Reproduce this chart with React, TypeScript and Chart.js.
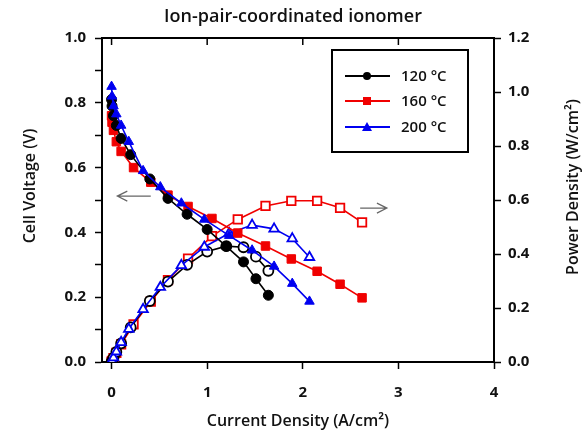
import React, { useEffect, useRef } from "react";
import { Chart, registerables } from "chart.js";

Chart.register(...registerables);

// ---- data ----
const titleText = "Ion-pair-coordinated ionomer";
const xTickValues = [0, 1, 2, 3, 4];

const current120 = [0, 0.005, 0.02, 0.05, 0.1, 0.2, 0.4, 0.59, 0.79, 1.0, 1.2, 1.38, 1.51, 1.64];
const voltage120 = [0.81, 0.79, 0.76, 0.73, 0.69, 0.64, 0.565, 0.505, 0.456, 0.409, 0.357, 0.309, 0.257, 0.206];
const power120 = [0, 0.004, 0.015, 0.037, 0.069, 0.128, 0.226, 0.298, 0.36, 0.409, 0.429, 0.425, 0.39, 0.338];

const current160 = [0, 0.005, 0.02, 0.05, 0.1, 0.23, 0.41, 0.59, 0.8, 1.05, 1.32, 1.61, 1.88, 2.15, 2.39, 2.62];
const voltage160 = [0.76, 0.74, 0.715, 0.68, 0.65, 0.6, 0.555, 0.515, 0.48, 0.443, 0.398, 0.358, 0.318, 0.28, 0.24, 0.198];
const power160 = [0, 0.004, 0.014, 0.034, 0.065, 0.139, 0.224, 0.303, 0.383, 0.466, 0.528, 0.578, 0.597, 0.597, 0.571, 0.517];

const current200 = [0, 0.005, 0.02, 0.05, 0.1, 0.18, 0.33, 0.51, 0.73, 0.97, 1.23, 1.47, 1.7, 1.89, 2.07];
const voltage200 = [0.85, 0.82, 0.79, 0.765, 0.73, 0.68, 0.59, 0.54, 0.49, 0.44, 0.39, 0.345, 0.295, 0.242, 0.187];
const power200 = [0, 0.004, 0.016, 0.038, 0.073, 0.122, 0.195, 0.277, 0.358, 0.426, 0.477, 0.507, 0.493, 0.457, 0.388];

const seriesLabels = ["120 °C", "160 °C", "200 °C"];
const seriesColors = ["#000000", "#f00000", "#0000f0"];
const seriesMarkers = ["circle", "rect", "triangle"];
const markerRadius = [5, 6, 5.5];

const FONT = "'Open Sans', 'Noto Sans', sans-serif";

function pts(xs: number[], ys: number[]) {
  return xs.map((x, i) => ({ x, y: ys[i] }));
}

const decorPlugin = {
  id: "decor",
  afterDraw(chart: any) {
    const { ctx, chartArea: a, scales } = chart;
    const xs = scales.x;
    const ys = scales.y;
    ctx.save();
    // top border + inward ticks
    ctx.strokeStyle = "#000";
    ctx.lineWidth = 2;
    ctx.beginPath();
    ctx.moveTo(a.left - 1, a.top);
    ctx.lineTo(a.right + 1, a.top);
    ctx.stroke();
    ctx.lineWidth = 1.5;
    for (const t of xTickValues) {
      const px = xs.getPixelForValue(t);
      ctx.beginPath();
      ctx.moveTo(px, a.top);
      ctx.lineTo(px, a.top + 7);
      ctx.stroke();
    }

    // arrows
    ctx.strokeStyle = "#666";
    ctx.lineWidth = 1.2;
    const arrow = (x1: number, x2: number, v: number, headLeft: boolean) => {
      const p1 = xs.getPixelForValue(x1);
      const p2 = xs.getPixelForValue(x2);
      const py = ys.getPixelForValue(v);
      ctx.beginPath();
      ctx.moveTo(p1, py);
      ctx.lineTo(p2, py);
      const hx = headLeft ? Math.min(p1, p2) : Math.max(p1, p2);
      const d = headLeft ? 10 : -10;
      ctx.moveTo(hx + d, py - 5);
      ctx.lineTo(hx, py);
      ctx.lineTo(hx + d, py + 5);
      ctx.stroke();
    };
    arrow(0.06, 0.41, 0.512, true);
    arrow(2.6, 2.88, 0.475, false);

    // legend
    const lx = 332, ly = 50, lw = 136, lh = 102;
    ctx.strokeStyle = "#000";
    ctx.lineWidth = 2;
    ctx.strokeRect(lx, ly, lw, lh);
    const rows = [76, 101, 127];
    ctx.font = `600 15px ${FONT}`;
    ctx.textBaseline = "middle";
    ctx.textAlign = "left";
    for (let i = 0; i < 3; i++) {
      const y = rows[i];
      ctx.strokeStyle = seriesColors[i];
      ctx.fillStyle = seriesColors[i];
      ctx.lineWidth = 2;
      ctx.beginPath();
      ctx.moveTo(345, y);
      ctx.lineTo(390, y);
      ctx.stroke();
      const cx = 367;
      ctx.beginPath();
      if (i === 0) {
        ctx.arc(cx, y, 4, 0, Math.PI * 2);
        ctx.fill();
      } else if (i === 1) {
        ctx.fillRect(cx - 4, y - 4, 8, 8);
      } else {
        ctx.moveTo(cx, y - 5);
        ctx.lineTo(cx + 5, y + 4);
        ctx.lineTo(cx - 5, y + 4);
        ctx.closePath();
        ctx.fill();
      }
      ctx.fillStyle = "#111";
      ctx.fillText(seriesLabels[i], 401, y + 1);
    }

    // y axis titles (both read bottom-to-top)
    ctx.fillStyle = "#111";
    ctx.font = `600 16px ${FONT}`;
    ctx.textAlign = "center";
    ctx.textBaseline = "middle";
    ctx.save();
    ctx.translate(30, 186);
    ctx.rotate(-Math.PI / 2);
    ctx.fillText("Cell Voltage (V)", 0, 0);
    ctx.restore();
    ctx.save();
    ctx.translate(573, 187);
    ctx.rotate(-Math.PI / 2);
    ctx.fillText("Power Density (W/cm²)", 0, 0);
    ctx.restore();

    ctx.restore();
  },
};

export default function App() {
  const ref = useRef<HTMLCanvasElement | null>(null);

  useEffect(() => {
    if (!ref.current) return;
    const mk = (i: number, xs: number[], ys: number[], axis: string, open: boolean) => ({
      label: seriesLabels[i] + (open ? " P" : " V"),
      data: pts(xs, ys),
      yAxisID: axis,
      borderColor: seriesColors[i],
      backgroundColor: open ? "#ffffff" : seriesColors[i],
      pointBackgroundColor: open ? "#ffffff" : seriesColors[i],
      pointBorderColor: seriesColors[i],
      pointBorderWidth: open ? 1.8 : 1,
      pointStyle: seriesMarkers[i],
      pointRadius: markerRadius[i],
      borderWidth: 1.6,
      showLine: true,
      tension: 0,
      fill: false,
    });

    const chart = new Chart(ref.current, {
      type: "line",
      data: {
        datasets: [
          mk(2, current200, voltage200, "y", false),
          mk(0, current120, voltage120, "y", false),
          mk(1, current160, voltage160, "y", false),
          mk(2, current200, power200, "y2", true),
          mk(0, current120, power120, "y2", true),
          mk(1, current160, power160, "y2", true),
        ],
      },
      options: {
        animation: false,
        responsive: false,
        devicePixelRatio: 1,
        layout: { padding: 0 },
        plugins: {
          legend: { display: false },
          tooltip: { enabled: false },
          title: {
            display: true,
            text: titleText,
            color: "#111",
            font: { family: FONT, size: 18, weight: "600" },
            padding: { top: 6, bottom: 10.4 },
          },
        },
        scales: {
          x: {
            type: "linear",
            min: -0.1,
            max: 4.0,
            afterBuildTicks: (s: any) => {
              s.ticks = xTickValues.map((v) => ({ value: v }));
            },
            afterFit: (s: any) => {
              s.height = 72;
            },
            ticks: {
              color: "#111",
              font: { family: FONT, size: 15, weight: "bold" },
              padding: 15,
              callback: (v: any) => String(v),
            },
            grid: {
              drawOnChartArea: false,
              drawTicks: true,
              tickLength: 7,
              tickColor: "#000",
              tickWidth: 1.5,
            },
            border: { display: true, color: "#000", width: 2 },
            title: {
              display: true,
              text: "Current Density (A/cm²)",
              color: "#111",
              font: { family: FONT, size: 16, weight: "600" },
              padding: { top: 0, bottom: 3 },
            },
          },
          y: {
            type: "linear",
            position: "left",
            min: 0,
            max: 1.0,
            afterFit: (s: any) => {
              s.width = 102;
            },
            ticks: {
              stepSize: 0.1,
              color: "#111",
              font: { family: FONT, size: 15, weight: "bold" },
              padding: 9,
              callback: (v: any) => (Math.round(v * 10) % 2 === 0 ? Number(v).toFixed(1) : ""),
            },
            grid: {
              drawOnChartArea: false,
              drawTicks: true,
              tickLength: 7,
              tickColor: "#000",
              tickWidth: 1.5,
            },
            border: { display: true, color: "#000", width: 2 },
          },
          y2: {
            type: "linear",
            position: "right",
            min: 0,
            max: 1.2,
            afterFit: (s: any) => {
              s.width = 92;
            },
            ticks: {
              stepSize: 0.2,
              color: "#111",
              font: { family: FONT, size: 15, weight: "bold" },
              padding: 7,
              callback: (v: any) => Number(v).toFixed(1),
            },
            grid: {
              drawOnChartArea: false,
              drawTicks: true,
              tickLength: 7,
              tickColor: "#000",
              tickWidth: 1.5,
            },
            border: { display: true, color: "#000", width: 2 },
          },
        },
      },
      plugins: [decorPlugin],
    } as any);
    return () => chart.destroy();
  }, []);

  return (
    <div style={{ position: "absolute", left: 0, top: 0, width: 586, height: 434, background: "#fff" }}>
      <canvas ref={ref} width={586} height={434} style={{ display: "block" }} />
    </div>
  );
}
